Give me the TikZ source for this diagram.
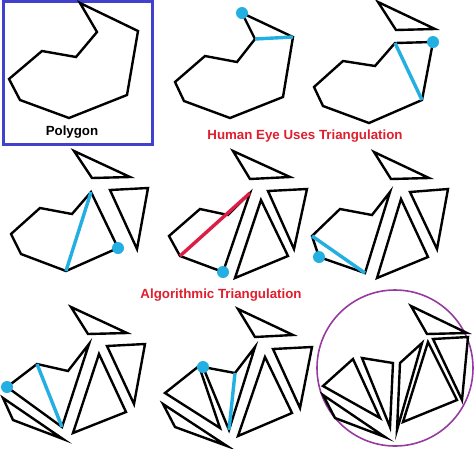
\documentclass[tikz,border=0pt]{standalone}
\usepackage{fontspec}
\setmainfont{Liberation Sans}
\definecolor{eyeblue}{RGB}{35,175,225}
\definecolor{badred}{RGB}{220,30,70}
\definecolor{titlered}{RGB}{225,30,45}
\definecolor{framebl}{RGB}{65,65,205}
\definecolor{circpur}{RGB}{150,60,160}
\tikzset{
  poly/.style={draw=black, line width=2.4pt, line join=miter},
  cut/.style={draw=eyeblue, line width=3.4pt},
  badcut/.style={draw=badred, line width=3.4pt},
  vdot/.style={fill=eyeblue},
  lbl/.style={font=\bfseries\fontsize{13.3}{15}\selectfont, inner sep=0pt},
}
\begin{document}
\begin{tikzpicture}[x=1pt,y=-1pt]
\useasboundingbox (0,0) rectangle (474,448);
\fill[white] (0,0) rectangle (474,448);
% ---------- panel 1
\draw[framebl, line width=3pt] (3,1.5) rectangle (152.5,144);
\draw[poly] (80,3) -- (97,32) -- (76,57) -- (42,51) -- (9,79) -- (20,100) -- (69,118) -- (127,95) -- (138,31) -- cycle;
\node[lbl] (p1lbl) at (72,132) {Polygon};
% ---------- panel 2
\draw[poly] (293,37) -- (283,97) -- (230,118) -- (184,101) -- (175,82) -- (205,56) -- (237,62) -- (255,39) -- (242,13) -- cycle;
\draw[cut] (255,39) -- (293,37);
\fill[vdot] (242,13) circle (6);
\node[lbl, text=titlered] (t1) at (305,136) {Human Eye Uses Triangulation};
% ---------- panel 3
\draw[poly] (378,2) -- (435,29) -- (396,30) -- cycle;
\draw[poly] (395,43) -- (433,42) -- (422,100) -- (369,123) -- (323,106) -- (314,87) -- (343,61) -- (375,66) -- cycle;
\draw[cut] (395,43) -- (422,100);
\fill[vdot] (433,42) circle (6);
% ---------- panel 4
\draw[poly] (74,151) -- (130,177) -- (92,178) -- cycle;
\draw[poly] (110,190) -- (148,188) -- (137,249) -- cycle;
\draw[poly] (91,192) -- (118,248) -- (66,271) -- (21,254) -- (11,234) -- (40,208) -- (72,214) -- cycle;
\draw[cut] (91,192) -- (66,271);
\fill[vdot] (118,248) circle (6);
% ---------- panel 5
\draw[poly] (233,151) -- (290,177) -- (250,179) -- cycle;
\draw[poly] (268,191) -- (307,189) -- (294,249) -- cycle;
\draw[poly] (261,200) -- (288,256) -- (235,278) -- cycle;
\draw[poly] (250,193) -- (223,272) -- (180,256) -- (169,236) -- (200,209) -- (228,215) -- cycle;
\draw[badcut] (180,256) -- (250,193);
\fill[vdot] (223,272) circle (6);
% ---------- panel 6
\draw[poly] (374,152) -- (429,178) -- (391,179) -- cycle;
\draw[poly] (410,192) -- (448,189) -- (437,249) -- cycle;
\draw[poly] (401,199) -- (428,257) -- (377,278) -- cycle;
\draw[poly] (390,192) -- (365,273) -- (319,257) -- (312,236) -- (340,209) -- (372,215) -- cycle;
\draw[cut] (365,273) -- (312,236);
\fill[vdot] (319,257) circle (6);
\node[lbl, text=titlered] (t2) at (221,295) {Algorithmic Triangulation};
% ---------- panel 7
\draw[poly] (71,307) -- (127,333) -- (88,334) -- cycle;
\draw[poly] (107,346) -- (145,344) -- (134,404) -- cycle;
\draw[poly] (99,354) -- (126,412) -- (73,433) -- cycle;
\draw[poly] (89,344) -- (62,427) -- (7,387) -- (37,364) -- (68,371) -- cycle;
\draw[poly] (3,398) -- (63,439) -- (13,420) -- cycle;
\draw[cut] (37,364) -- (62,427);
\fill[vdot] (7,387) circle (6);
% ---------- panel 8
\draw[poly] (238,309) -- (293,335) -- (255,337) -- cycle;
\draw[poly] (273,349) -- (312,347) -- (300,408) -- cycle;
\draw[poly] (265,357) -- (292,413) -- (238,436) -- cycle;
\draw[poly] (255,347) -- (229,430) -- (203,367) -- (235,373) -- cycle;
\draw[poly] (165,393) -- (199,366) -- (220,428) -- cycle;
\draw[poly] (163,404) -- (227,446) -- (175,427) -- cycle;
\draw[cut] (235,373) -- (229,430);
\fill[vdot] (203,367) circle (6);
% ---------- panel 9
\draw[circpur, line width=1.6pt] (395,368) circle (78);
\draw[poly] (411,306) -- (467,333) -- (427,334) -- cycle;
\draw[poly] (433,339) -- (468,337) -- (462,400) -- cycle;
\draw[poly] (428,342) -- (457,400) -- (403,422) -- cycle;
\draw[poly] (422,343) -- (400,363) -- (397,430) -- cycle;
\draw[poly] (362,358) -- (393,363) -- (390,427) -- cycle;
\draw[poly] (353,359) -- (323,386) -- (380,418) -- cycle;
\draw[poly] (323,395) -- (385,437) -- (335,418) -- cycle;
\end{tikzpicture}
\end{document}
